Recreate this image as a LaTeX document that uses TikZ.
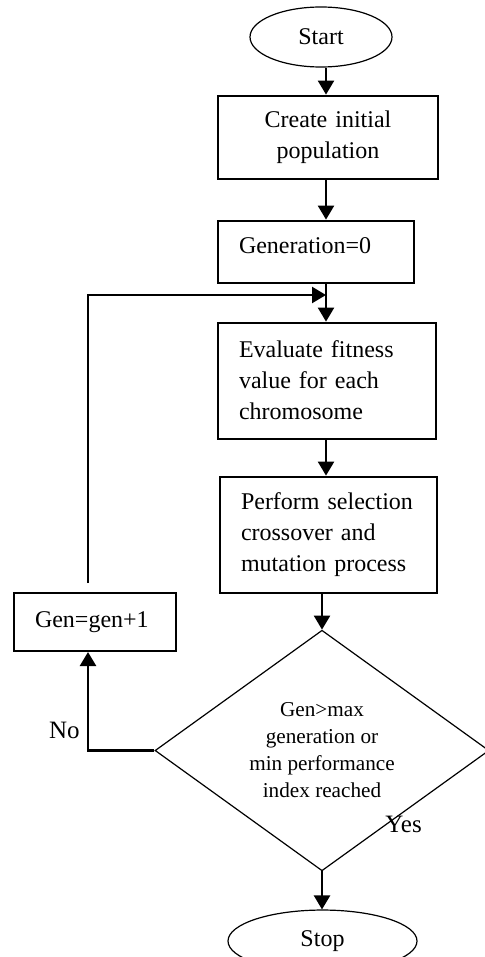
\documentclass[tikz,border=0pt]{standalone}
\usepackage{fontspec}
\setmainfont{Liberation Serif}
\usetikzlibrary{positioning, shapes.geometric, arrows.meta}

\begin{document}
\begin{tikzpicture}[node distance={18pt},
  txt/.style = {font=\fontsize{12}{15.5}\selectfont},
  term/.style = {draw, ellipse, line width=0.6pt, inner sep=0pt, txt},
  box/.style = {draw, rectangle, line width=1pt, inner xsep=10.5pt, inner ysep=0pt, align=left, txt},
  decision/.style = {draw, diamond, line width=0.6pt, inner sep=0pt, align=center, font=\fontsize{10.6}{13.5}\selectfont},
  lab/.style = {inner sep=0pt, font=\fontsize{12.5}{15}\selectfont},
  flow/.style = {line width=1.2pt, -{Triangle[length=7pt, width=8pt]}}]
\useasboundingbox (0,0) rectangle (242pt,-478.5pt);
\coordinate (trunk) at (163pt,0);
\coordinate (loop) at (44pt,0);
\coordinate (rise) at (44pt,-291.5pt);
\coordinate (back) at (163pt,-147.5pt);
% main column
\node[term, minimum width=71pt, minimum height=30pt] (start) at (160.5pt,-18.5pt) {Start};
\node[box, text width=89pt, minimum height=41.5pt, align=center] (create) [below=13.5pt of start, xshift=3.5pt] {Create initial\\population};
\node[box, text width=77pt, text depth=6.5pt, minimum height=31pt] (genzero) [below=20pt of create, xshift=-6pt] {Generation=0};
\node[box, text width=88pt, minimum height=58pt] (fit) [below=19pt of genzero, xshift=5.5pt] {Evaluate fitness\\value for each\\chromosome};
\node[box, text width=87.5pt, minimum height=58pt] (sel) [below=18pt of fit, xshift=0.75pt] {Perform selection\\crossover and\\mutation process};
\node[decision, minimum width=167pt, minimum height=117pt] (check) [below=18pt of sel, xshift=-3.25pt] {Gen>max\\generation or\\min performance\\index reached};
\node[term, minimum width=94.5pt, minimum height=31pt] (stop) [below=19pt of check, xshift=0.25pt] {Stop};
% loop back
\node[box, text width=60pt, minimum height=29pt] (genup) at (47.5pt,-311pt) {Gen=gen+1};
\node[lab, anchor=base east] (no) at (40pt,-369pt) {No};
\node[lab, anchor=base west] (yes) at (192.5pt,-416pt) {Yes};
\draw[flow] (start.south -| trunk) -- (create.north -| trunk);
\draw[flow] (create.south -| trunk) -- (genzero.north -| trunk);
\draw[flow] (genzero.south -| trunk) -- (fit.north -| trunk);
\draw[flow] (fit.south -| trunk) -- (sel.north -| trunk);
\draw[flow] (sel.south -| check.north) -- (check.north);
\draw[flow] (check.south) -- (check.south |- stop.north);
\draw[flow] (check.west) -- (check.west -| loop) -- (genup.south -| loop);
\draw[flow] (rise) -- (loop |- back) -- (back);
\end{tikzpicture}
\end{document}
